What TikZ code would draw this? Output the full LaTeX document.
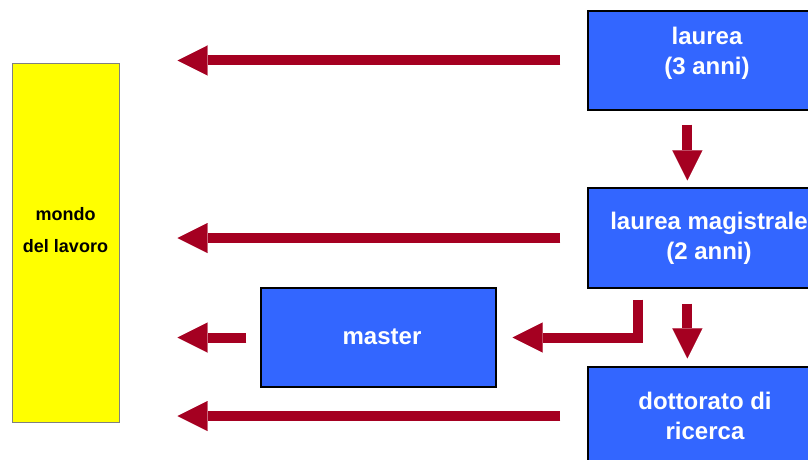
\documentclass[tikz,border=0pt]{standalone}
\usepackage{fontspec}
\setmainfont{Liberation Sans}
\usetikzlibrary{arrows.meta,calc}
\definecolor{arrowred}{HTML}{A50021}
\definecolor{boxblue}{HTML}{3366FF}
\definecolor{worldyellow}{HTML}{FFFF00}
\begin{document}
\begin{tikzpicture}[x=1pt,y=-1pt,
  bluebox/.style={draw=black, line width=1.2pt, fill=boxblue, inner sep=0pt},
  worldbox/.style={draw=gray, line width=1pt, fill=worldyellow, inner sep=0pt,
                   minimum width=107pt, minimum height=358pt},
  boxtext/.style={text=white, font=\fontsize{24}{30}\selectfont\bfseries, align=center, inner sep=0pt},
  worldtext/.style={text=black, font=\fontsize{18}{32}\selectfont\bfseries, align=center, inner sep=0pt},
  flow/.style={draw=arrowred, line width=10pt, line join=miter,
               -{Triangle[length=30pt,width=30pt,line width=0.01pt]}}
]
\useasboundingbox (0,0) rectangle (808,460);
\clip (0,0) rectangle (808,460);
\fill[white] (0,0) rectangle (808,460);

\node[worldbox] (mondo) at (65.5,243) {};
\node[worldtext] (mondotext) at (65.5,230) {mondo\\del lavoro};

\node[bluebox, minimum width=238pt, minimum height=99pt] (laurea) at (707,60.5) {};
\node[boxtext] (laureatext) at (707,53) {laurea\\(3 anni)};

\node[bluebox, minimum width=238pt, minimum height=100pt] (magistrale) at (707,238) {};
\node[boxtext] (magistraletext) at (709,238) {laurea magistrale\\(2 anni)};

\node[bluebox, minimum width=238pt, minimum height=98pt] (dottorato) at (707,416) {};
\node[boxtext] (dottoratotext) at (705,415.5) {dottorato di\\ricerca};

\node[bluebox, minimum width=235pt, minimum height=99pt] (master) at (378.5,337.5) {};
\node[boxtext] (mastertext) at (382,336.5) {master};

\draw[flow] ($(laurea.west)+(-27,0)$) -- ($(mondo.east |- laurea.west)+(58,0)$);
\draw[flow] ($(magistrale.west)+(-27,0)$) -- ($(mondo.east |- magistrale.west)+(58,0)$);
\draw[flow] ($(master.west)+(-14,0)$) -- ($(mondo.east |- master.west)+(58,0)$);
\draw[flow] ($(dottorato.west)+(-27,0)$) -- ($(mondo.east |- dottorato.west)+(58,0)$);

\draw[flow] ($(laurea.south west)+(100,14)$) -- ($(magistrale.north west)+(100,-7)$);
\draw[flow] ($(magistrale.south west)+(100,15)$) -- ($(dottorato.north west)+(100,-8)$);
\draw[flow] ($(magistrale.south west)+(50.5,11)$) |- ($(master.east)+(16,0)$);
\end{tikzpicture}
\end{document}
